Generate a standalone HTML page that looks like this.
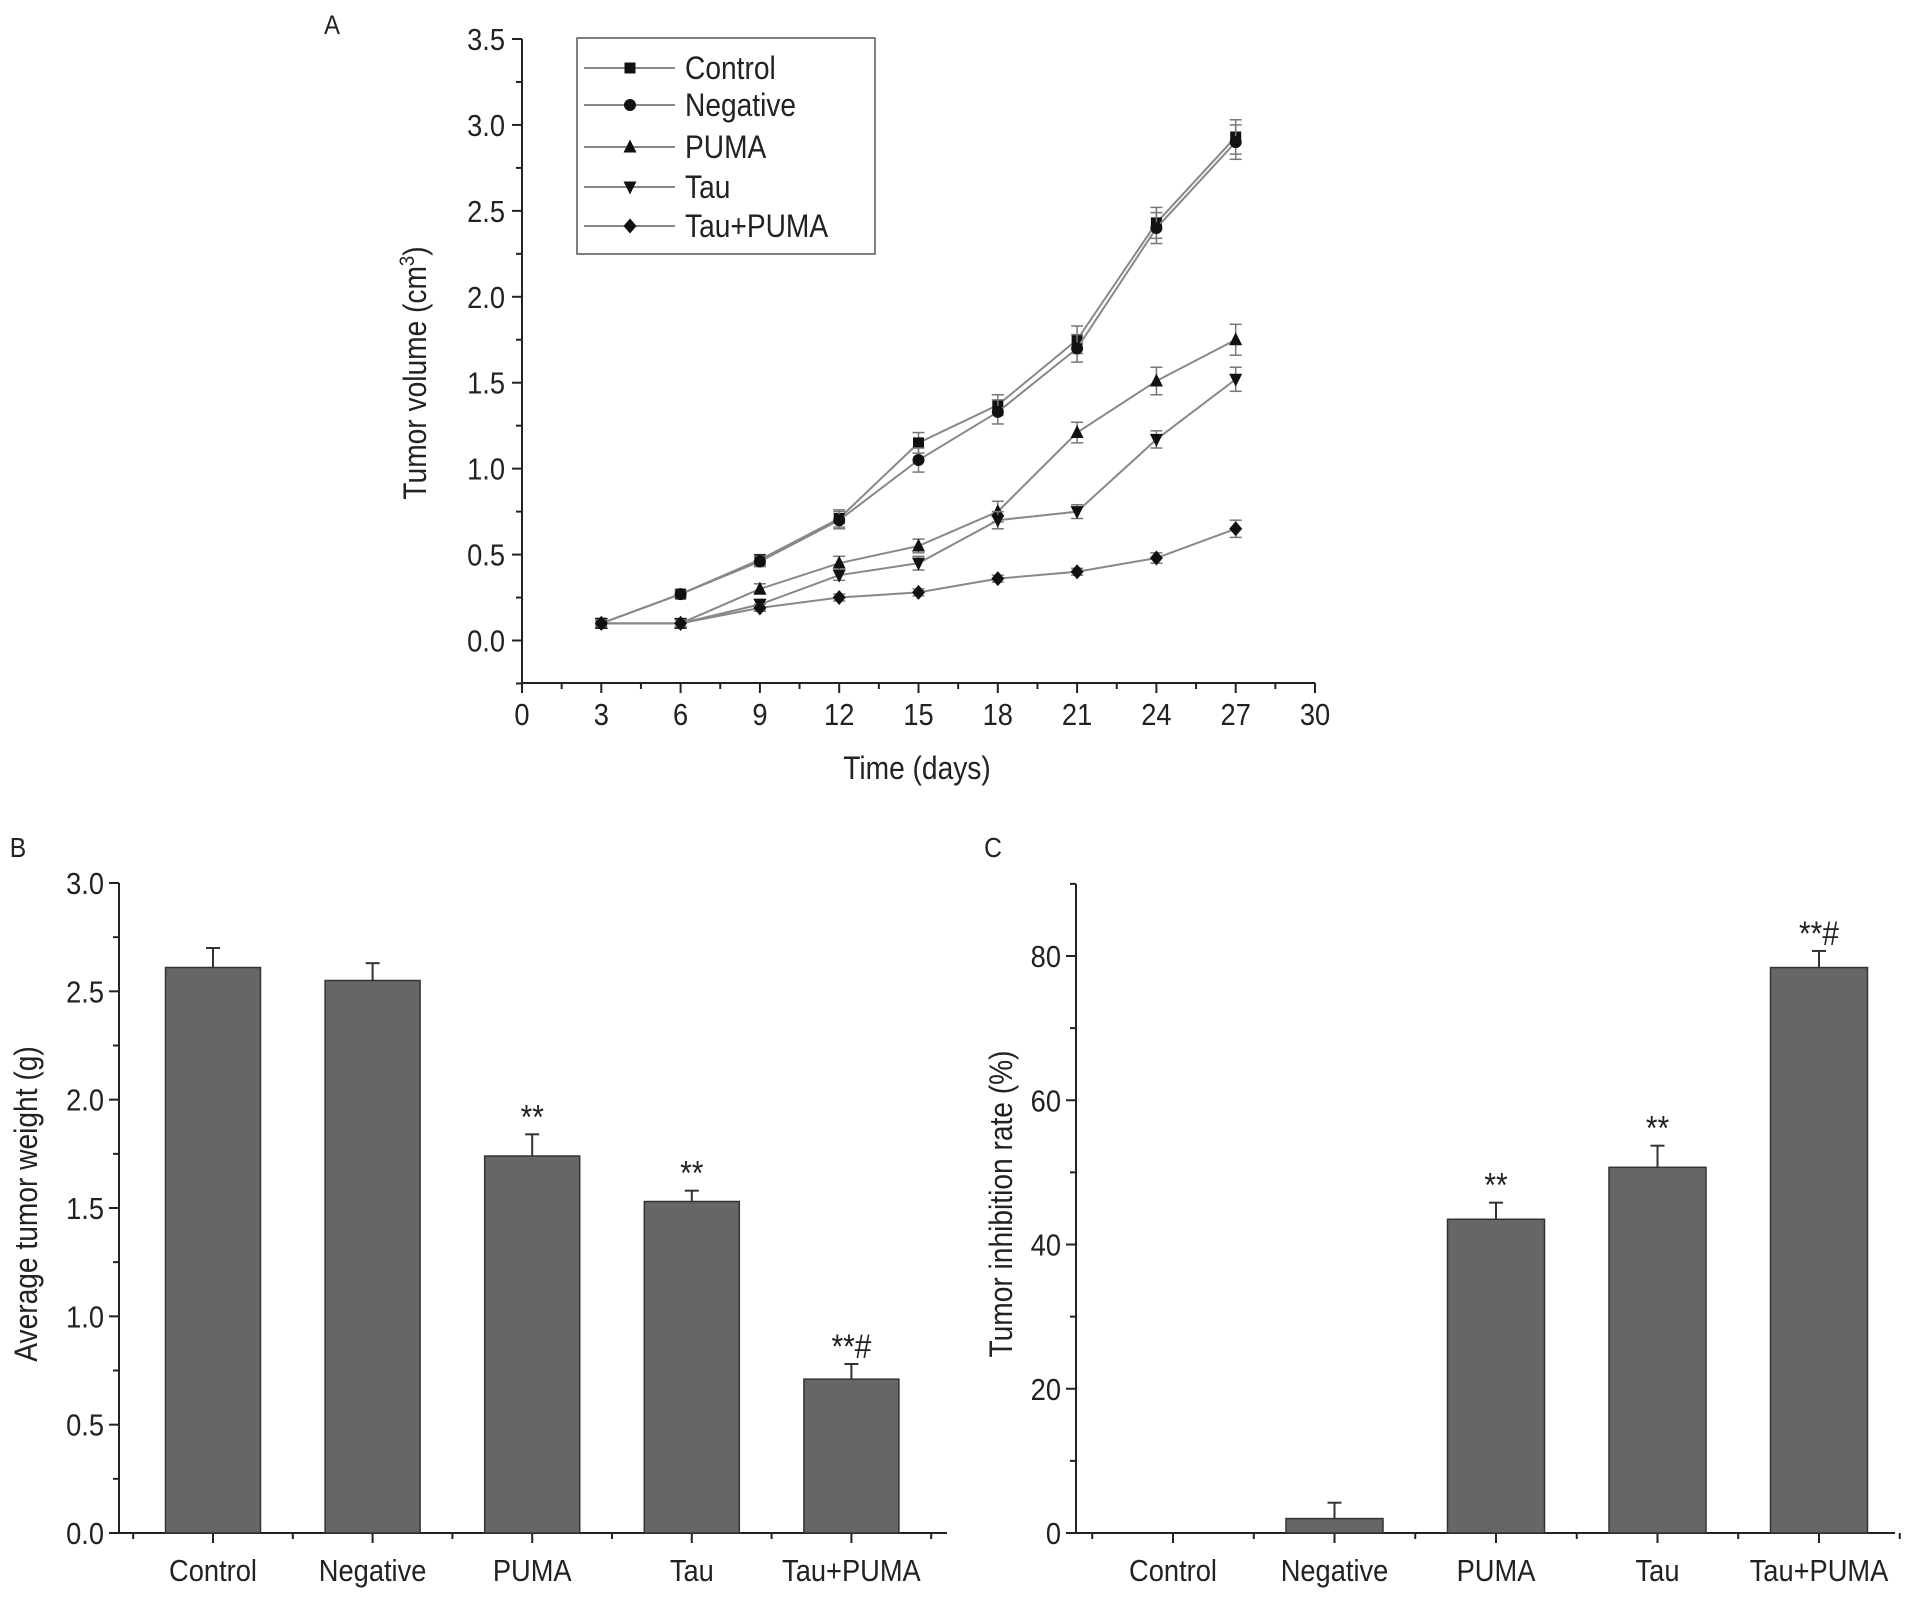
<!DOCTYPE html>
<html><head><meta charset="utf-8"><style>
html,body{margin:0;padding:0;background:#fff}
svg{display:block;font-family:"Liberation Sans",Arial,sans-serif}
</style></head><body>
<svg id="fig" width="1913" height="1598" viewBox="0 0 1913 1598" xmlns="http://www.w3.org/2000/svg"></svg>
<script>
// ---- Panel A data ----
const daysA = [3,6,9,12,15,18,21,24,27];
const seriesNames = ["Control","Negative","PUMA","Tau","Tau+PUMA"];
const controlVals = [0.10,0.27,0.47,0.71,1.15,1.37,1.75,2.43,2.93];
const negativeVals = [0.10,0.27,0.46,0.70,1.05,1.33,1.70,2.40,2.90];
const pumaVals = [0.10,0.10,0.30,0.45,0.55,0.75,1.21,1.51,1.75];
const tauVals = [0.10,0.10,0.21,0.38,0.45,0.70,0.75,1.17,1.52];
const tauPumaVals = [0.10,0.10,0.19,0.25,0.28,0.36,0.40,0.48,0.65];
const controlErr = [0.02,0.02,0.03,0.05,0.06,0.06,0.08,0.09,0.10];
const negativeErr = [0.02,0.02,0.03,0.05,0.07,0.07,0.08,0.09,0.10];
const pumaErr = [0.02,0.02,0.03,0.04,0.04,0.06,0.06,0.08,0.09];
const tauErr = [0.02,0.02,0.03,0.03,0.04,0.05,0.04,0.05,0.07];
const tauPumaErr = [0.02,0.02,0.02,0.02,0.02,0.02,0.02,0.03,0.05];
const yTicksA = [0.0,0.5,1.0,1.5,2.0,2.5,3.0,3.5];
const xTicksA = [0,3,6,9,12,15,18,21,24,27,30];
// ---- Panel B data ----
const categories = ["Control","Negative","PUMA","Tau","Tau+PUMA"];
const weightVals = [2.61,2.55,1.74,1.53,0.71];
const weightErr = [0.09,0.08,0.10,0.05,0.07];
const weightMarks = ["","","**","**","**#"];
const yTicksB = [0.0,0.5,1.0,1.5,2.0,2.5,3.0];
// ---- Panel C data ----
const inhibVals = [0,2.0,43.5,50.7,78.4];
const inhibErr = [0,2.2,2.3,3.0,2.3];
const inhibMarks = ["","","**","**","**#"];
const yTicksC = [0,20,40,60,80];

const NS="http://www.w3.org/2000/svg";
const svg=document.getElementById('fig');
const SQ=0.88;
function el(tag,attrs,parent){const e=document.createElementNS(NS,tag);for(const k in attrs)e.setAttribute(k,attrs[k]);(parent||svg).appendChild(e);return e;}
function txt(s,x,y,size,anchor,parent,rot){const tr=`translate(${x},${y})`+(rot?' rotate(-90)':'')+` scale(${SQ},1)`;const t=el('text',{x:0,y:0,'font-size':size,'text-anchor':anchor||'middle',fill:'#222',transform:tr},parent);t.textContent=s;return t;}

// ===== Panel A =====
const gA=el('g',{});


const ax=d=>522+(d-0)*(1315-522)/30;
const ay=v=>640.5-v*(640.5-39)/3.5;
txt('A',332,34,27,'middle',gA);
el('line',{x1:522,y1:39,x2:522,y2:683,stroke:'#222','stroke-width':2},gA);
el('line',{x1:522,y1:683,x2:1315,y2:683,stroke:'#222','stroke-width':2},gA);
for(let v=-0.25;v<=3.5001;v+=0.25){const major=Math.abs(v*2-Math.round(v*2))<1e-6&&v>=0;el('line',{x1:major?512:516,y1:ay(v),x2:522,y2:ay(v),stroke:'#222','stroke-width':2},gA);}
yTicksA.forEach(v=>{const t=txt(v.toFixed(1),505,ay(v)+11,31,'end',gA);});
for(let d=0;d<=30;d+=1.5){const major=Math.abs(d/3-Math.round(d/3))<1e-6;el('line',{x1:ax(d),y1:683,x2:ax(d),y2:major?693:689,stroke:'#222','stroke-width':2},gA);}
xTicksA.forEach(d=>{const t=txt(String(d),ax(d),725,31,'middle',gA);});
const yt=el('text',{x:0,y:0,'font-size':32,'text-anchor':'middle',fill:'#222',transform:`translate(426,373) rotate(-90) scale(${SQ},1)`},gA);

yt.innerHTML='Tumor volume (cm<tspan dy="-12" font-size="21">3</tspan><tspan dy="12">)</tspan>';
txt('Time (days)',917,779,32,'middle',gA);

function marker(type,x,y,parent){
  const s=5.5;let m;
  if(type===0)m=el('rect',{x:x-s,y:y-s,width:2*s,height:2*s,fill:'#111'},parent);
  else if(type===1)m=el('circle',{cx:x,cy:y,r:s+0.5,fill:'#111'},parent);
  else if(type===2)m=el('polygon',{points:`${x},${y-s-2} ${x-s-1},${y+s} ${x+s+1},${y+s}`,fill:'#111'},parent);
  else if(type===3)m=el('polygon',{points:`${x},${y+s+2} ${x-s-1},${y-s} ${x+s+1},${y-s}`,fill:'#111'},parent);
  else m=el('polygon',{points:`${x},${y-s-2} ${x+s+1},${y} ${x},${y+s+2} ${x-s-1},${y}`,fill:'#111'},parent);
  return m;
}
const allVals=[controlVals,negativeVals,pumaVals,tauVals,tauPumaVals];
const allErr=[controlErr,negativeErr,pumaErr,tauErr,tauPumaErr];
allVals.forEach((vals,si)=>{
  const g=el('g',{},gA);
  
  
  const pts=vals.map((v,i)=>ax(daysA[i])+','+ay(v)).join(' ');
  el('polyline',{points:pts,fill:'none',stroke:'#888','stroke-width':2},g);
  vals.forEach((v,i)=>{
    const x=ax(daysA[i]),e=allErr[si][i];
    el('line',{x1:x,y1:ay(v+e),x2:x,y2:ay(v-e),stroke:'#777','stroke-width':1.5},g);
    el('line',{x1:x-6,y1:ay(v+e),x2:x+6,y2:ay(v+e),stroke:'#777','stroke-width':1.5},g);
    el('line',{x1:x-6,y1:ay(v-e),x2:x+6,y2:ay(v-e),stroke:'#777','stroke-width':1.5},g);
    const m=marker(si,x,ay(v),g);
    
    
  });
});
// legend
const lg=el('g',{},gA);


el('rect',{x:577,y:38,width:298,height:216,fill:'#fff',stroke:'#555','stroke-width':1.5},lg);
const legY=[68,105,147,187,226];
seriesNames.forEach((n,i)=>{
  const g=el('g',{},lg);
  
  
  el('line',{x1:584,y1:legY[i],x2:675,y2:legY[i],stroke:'#888','stroke-width':2},g);
  marker(i,630,legY[i],g);
  txt(n,685,legY[i]+11,32,'start',g);
});

// ===== Bar panels =====
function barPanel(opts){
  const g=el('g',{});
  
  
  const y=v=>opts.y0-(v-0)*(opts.y0-opts.yTopPx)/opts.yTopVal;
  const cx=i=>opts.c0+opts.step*i;
  txt(opts.label,opts.labelX,opts.labelY,28,'middle',g);
  el('line',{x1:opts.axX,y1:opts.axTop,x2:opts.axX,y2:opts.y0,stroke:'#222','stroke-width':2},g);
  el('line',{x1:opts.axX,y1:opts.y0,x2:opts.axRight,y2:opts.y0,stroke:'#222','stroke-width':2},g);
  for(let v=0;v<=opts.maxTick+1e-6;v+=opts.minor){const major=Math.abs(v/opts.major-Math.round(v/opts.major))<1e-6;el('line',{x1:major?opts.axX-10:opts.axX-6,y1:y(v),x2:opts.axX,y2:y(v),stroke:'#222','stroke-width':2},g);}
  opts.ticks.forEach(v=>{const t=txt(opts.fmt(v),opts.axX-15,y(v)+11,31,'end',g);});
  for(let i=-0.5;i<=4.5;i+=0.5){el('line',{x1:cx(i),y1:opts.y0,x2:cx(i),y2:opts.y0+(Number.isInteger(i)?10:6),stroke:'#222','stroke-width':2},g);}
  categories.forEach((c,i)=>{const t=txt(c,cx(i),opts.y0+48,31,'middle',g);});
  const yt=txt(opts.title,opts.titleX,opts.titleY,32,'middle',g,true);
  
  opts.vals.forEach((v,i)=>{
    const x=cx(i),e=opts.err[i];
    if(v>0){
      const r=el('rect',{x:x-opts.bw/2,y:y(v),width:opts.bw,height:opts.y0-y(v),fill:'#666',stroke:'#333','stroke-width':1.5},g);
      
      
      el('line',{x1:x,y1:y(v),x2:x,y2:y(v+e),stroke:'#333','stroke-width':2},g);
      el('line',{x1:x-7,y1:y(v+e),x2:x+7,y2:y(v+e),stroke:'#333','stroke-width':2},g);
    }
    if(opts.marks[i]){const t=txt(opts.marks[i],x,y(v+e)-6,34,'middle',g);}
  });
}
barPanel({name:'panel-b-bar-chart',label:'B',labelX:18,labelY:857,axX:119,axRight:947,y0:1533,yTopPx:883,yTopVal:3.0,axTop:883,
  maxTick:3.0,minor:0.25,major:0.5,ticks:yTicksB,fmt:v=>v.toFixed(1),c0:213,step:159.6,bw:95,vals:weightVals,err:weightErr,marks:weightMarks,
  title:'Average tumor weight (g)',titleX:37,titleY:1204});
barPanel({name:'panel-c-bar-chart',label:'C',labelX:993,labelY:857,axX:1076,axRight:1895,y0:1533,yTopPx:956,yTopVal:80,axTop:884,
  maxTick:90,minor:10,major:20,ticks:yTicksC,fmt:v=>String(v),c0:1173,step:161.5,bw:97,vals:inhibVals,err:inhibErr,marks:inhibMarks,
  title:'Tumor inhibition rate (%)',titleX:1012,titleY:1204});
</script>
</body></html>
